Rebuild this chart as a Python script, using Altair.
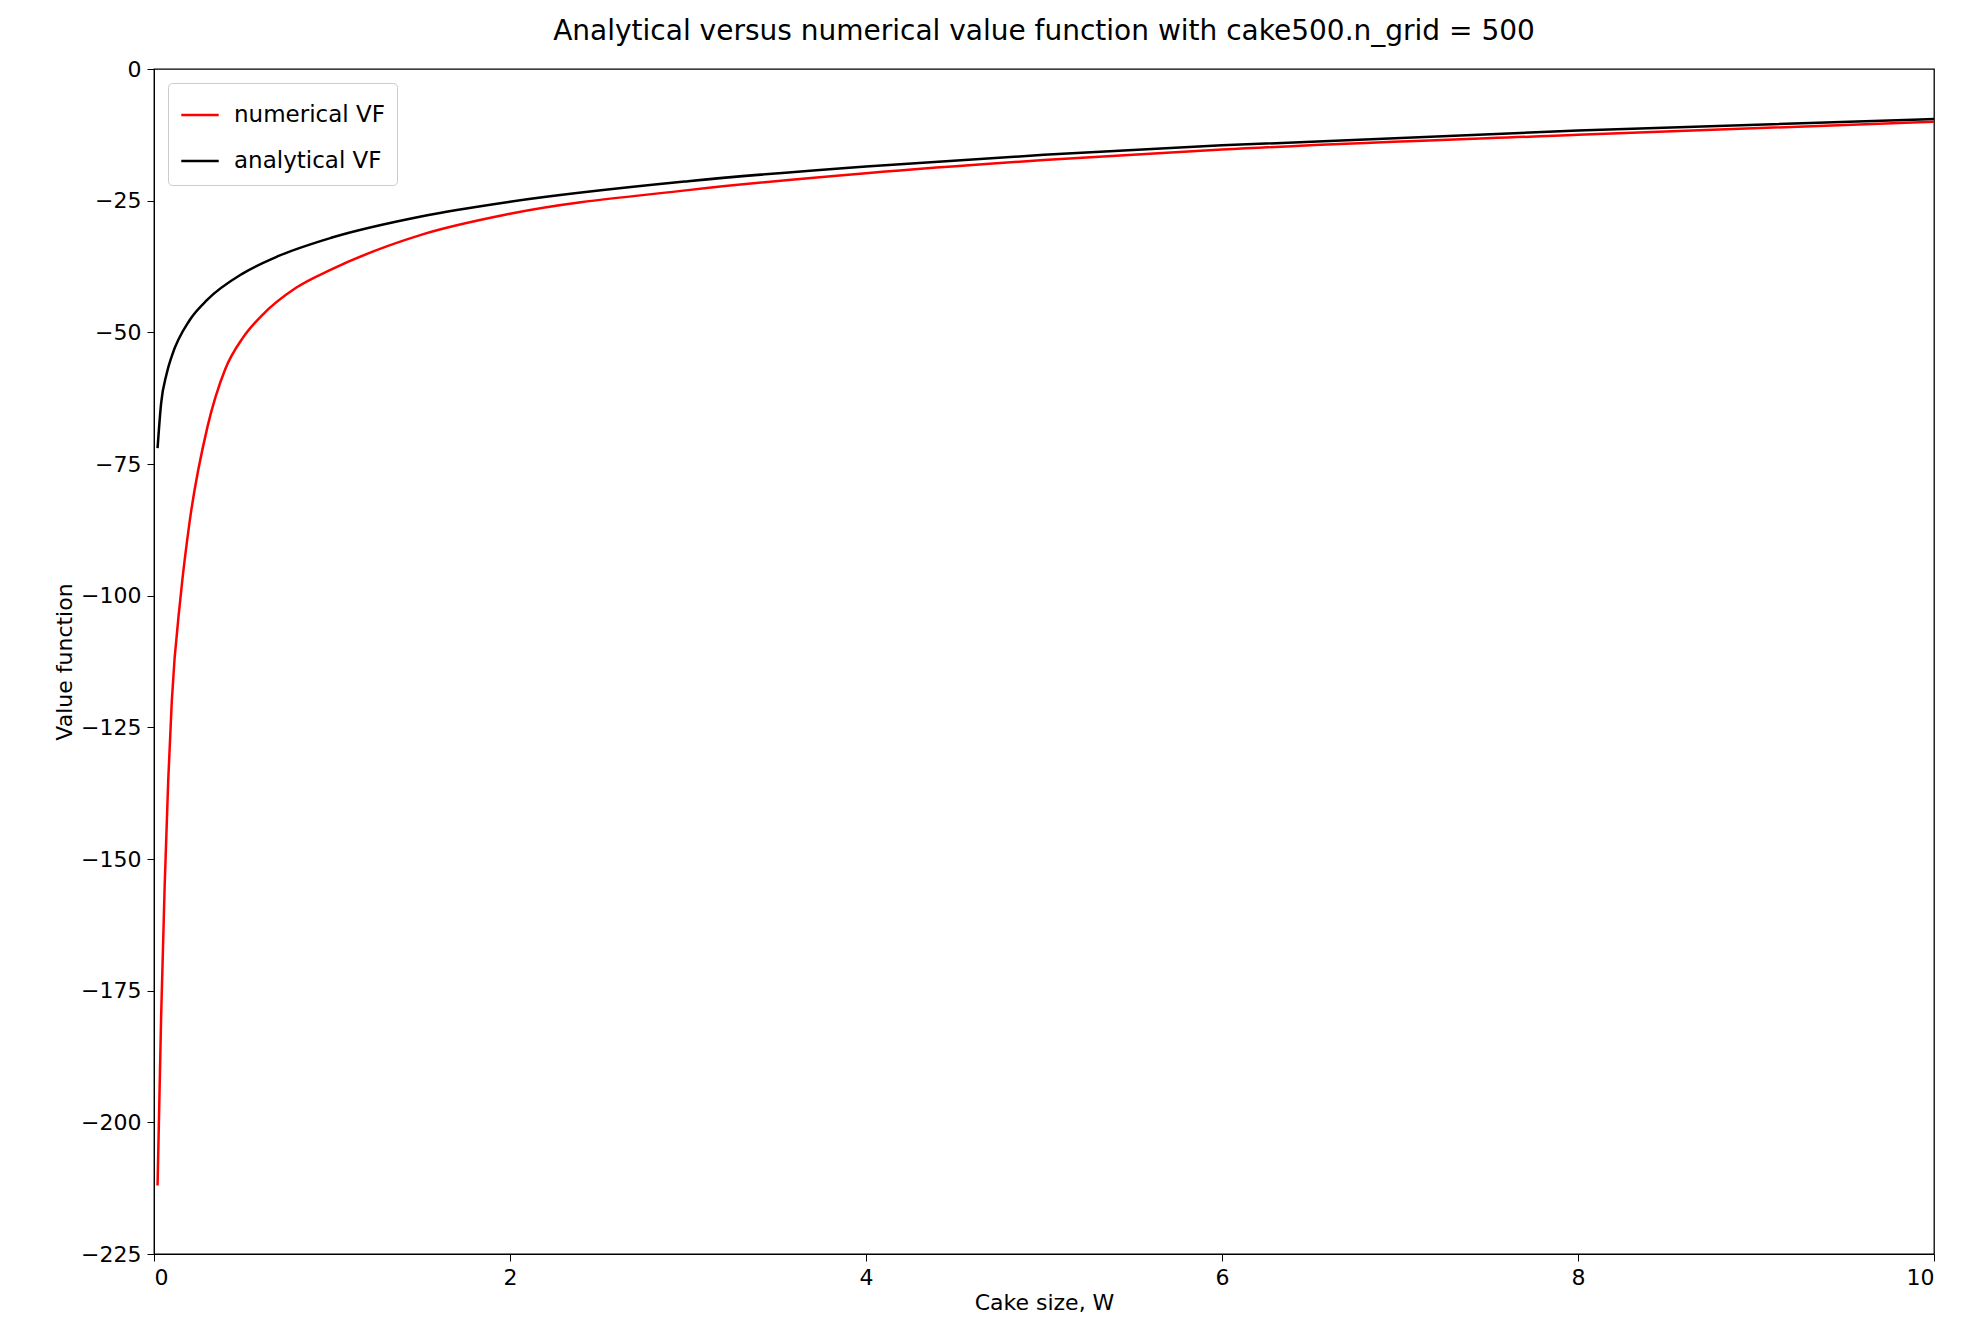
import altair as alt
import pandas as pd

num_w = [0.02, 0.04, 0.06, 0.08, 0.1, 0.15, 0.2, 0.3, 0.4, 0.5, 0.6, 0.8, 1.0, 1.5, 2, 3, 4, 5, 6, 8, 10]
num_v = [-212, -180, -155, -135, -120, -100, -86, -68, -57, -51, -47, -41.5, -38, -31.5, -27.5, -23, -19.8, -17.3, -15.3, -12.5, -10]
ana_w = [0.02, 0.04, 0.07, 0.1, 0.2, 0.3, 0.5, 0.7, 1.0, 1.5, 2, 3, 4, 5, 6, 8, 10]
ana_v = [-72, -63.5, -58, -54.5, -47.7, -43.8, -38.8, -35.5, -32, -28, -25.2, -21.3, -18.5, -16.3, -14.5, -11.7, -9.5]

data = pd.concat([
    pd.DataFrame({'W': num_w, 'V': num_v, 'series': 'numerical VF'}),
    pd.DataFrame({'W': ana_w, 'V': ana_v, 'series': 'analytical VF'}),
])

font = 'DejaVu Sans'
chart = alt.Chart(data).mark_line(interpolate='monotone', strokeWidth=2.5).encode(
    x=alt.X('W:Q', title='Cake size, W',
            scale=alt.Scale(domain=[0, 10], nice=False),
            axis=alt.Axis(values=[0, 2, 4, 6, 8, 10], grid=False)),
    y=alt.Y('V:Q', title='Value function',
            scale=alt.Scale(domain=[-225, 0], nice=False),
            axis=alt.Axis(values=list(range(-225, 1, 25)), grid=False)),
    color=alt.Color('series:N', title=None,
                    scale=alt.Scale(domain=['numerical VF', 'analytical VF'], range=['red', 'black']),
                    legend=alt.Legend(orient='top-left', symbolType='stroke', symbolStrokeWidth=2.5,
                                      symbolSize=1400, labelFontSize=23, labelFont=font,
                                      strokeColor='#cccccc', fillColor='white', padding=12,
                                      cornerRadius=4, rowPadding=14, offset=14, labelOffset=14)),
    detail='series:N',
).properties(
    width=1780, height=1185,
    padding={'left': 45, 'top': 10, 'right': 20, 'bottom': 10},
    title=alt.TitleParams('Analytical versus numerical value function with cake500.n_grid = 500',
                          fontSize=28, font=font, fontWeight='normal', offset=12)
).configure_axis(
    labelFont=font, titleFont=font, labelFontSize=22, titleFontSize=22, titleFontWeight='normal',
    domainColor='black', tickColor='black', labelColor='black', titleColor='black',
    tickSize=7, labelPadding=6,
).configure_view(stroke='black', strokeWidth=1.3)

chart.save("out.html", embed_options={"renderer": "svg", "actions": False})
